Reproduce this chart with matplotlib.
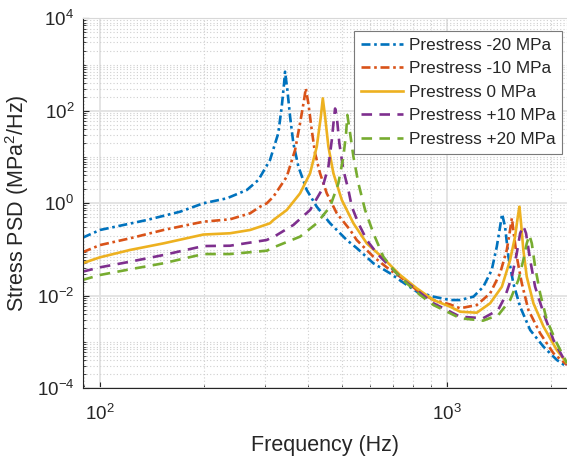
import numpy as np
import matplotlib
matplotlib.use("Agg")
import matplotlib.pyplot as plt
from matplotlib.ticker import LogLocator, NullFormatter, FixedLocator

plt.rcParams['font.family'] = ['Liberation Sans', 'DejaVu Sans']
plt.rcParams['mathtext.fontset'] = 'custom'
plt.rcParams['mathtext.rm'] = 'Liberation Sans'
plt.rcParams['mathtext.it'] = 'Liberation Sans:italic'

# ---------------- data ----------------
labels = ["Prestress -20 MPa", "Prestress -10 MPa", "Prestress 0 MPa",
          "Prestress +10 MPa", "Prestress +20 MPa"]

x_ticks = [100, 1000]
y_ticks = [1e-4, 1e-2, 1e0, 1e2, 1e4]

f_m20 = [89.3, 100.3, 136.8, 170.6, 199.1, 232.6, 265.7, 286.8, 309.8, 327.3,
         334.9, 340.2, 342.4, 347.7, 354.0, 361.8, 374.1, 395.4, 422.5, 461.6,
         515.5, 550.7, 615.2, 687.4, 734.6, 820.6, 916.6, 1024, 1094, 1195,
         1276, 1349, 1395, 1426, 1445, 1474, 1507, 1557, 1629, 1741, 1903,
         2078, 2223]
p_m20 = [0.180, 0.265, 0.435, 0.658, 1.0, 1.28, 1.94, 3.19, 8.6, 32.6,
         122, 393, 700, 282, 74.5, 19.8, 6.18, 1.94, 0.844, 0.370,
         0.161, 0.108, 0.0505, 0.0306, 0.0215, 0.0123, 0.00957, 0.0081, 0.0081, 0.00957,
         0.0157, 0.0361, 0.115, 0.312, 0.587, 0.312, 0.070, 0.0186, 0.0058, 0.00182, 0.00079,
         0.00041, 0.00029]

f_m10 = [89.3, 100.3, 122.4, 152.8, 199.1, 237.7, 271.5, 290.0, 303.3, 316.9,
         346.3, 365.9, 378.2, 388.4, 392.8, 399.6, 408.7, 417.8, 431.9, 451.6,
         482.6, 527.2, 550.7, 615.2, 687.4, 734.6, 820.6, 916.6, 1023, 1094,
         1222, 1335, 1426, 1491, 1524, 1542, 1557, 1593, 1647, 1721, 1860,
         2032, 2223]
p_m10 = [0.0873, 0.125, 0.175, 0.265, 0.40, 0.451, 0.608, 0.844, 1.0, 1.39,
         3.76, 14.2, 53.7, 171, 306, 145, 38.5, 12.05, 4.45, 1.64,
         0.608, 0.265, 0.161, 0.070, 0.0361, 0.0259, 0.0133, 0.0081, 0.0065, 0.00537,
         0.00632, 0.0113, 0.0306, 0.098, 0.265, 0.481, 0.265, 0.070, 0.0186, 0.00493, 0.00155,
         0.00057, 0.00032]

f_0 = [89.3, 100.3, 122.4, 152.8, 199.1, 237.7, 271.5, 290.0, 309.8, 316.9,
       346.3, 378.2, 404.2, 422.5, 434.1, 439.8, 446.6, 456.5, 471.9, 498.9,
       538.9, 588.8, 657.2, 734.6, 820.6, 916.6, 1024, 1094, 1222, 1335,
       1443, 1524, 1575, 1604, 1621, 1639, 1664, 1702, 1779, 1903, 2078, 2223]
p_0 = [0.0505, 0.068, 0.098, 0.136, 0.211, 0.225, 0.265, 0.312, 0.370, 0.435,
       0.716, 1.64, 4.45, 16.7, 74.5, 186, 74.5, 16.7, 4.45, 1.18,
       0.370, 0.136, 0.0647, 0.0282, 0.0145, 0.0081, 0.0058, 0.00453, 0.00431, 0.00689,
       0.0157, 0.0594, 0.19, 0.513, 0.844, 0.370, 0.098, 0.0259, 0.00689, 0.00215, 0.00067, 0.00035]

f_p10 = [89.3, 100.3, 122.4, 152.8, 199.1, 237.7, 303.3, 324.1, 361.8, 404.2,
         436.9, 456.5, 466.9, 474.1, 477.2, 482.6, 490.9, 504.2, 521.2, 533.2,
         557.0, 588.8, 629.3, 687.4, 750.7, 820.6, 916.6, 1024, 1094, 1274,
         1407, 1474, 1542, 1593, 1629, 1664, 1694, 1741, 1799, 1903, 2032, 2223]
p_p10 = [0.0332, 0.0413, 0.0546, 0.0762, 0.119, 0.121, 0.161, 0.206, 0.34, 0.716,
         1.94, 6.18, 23.4, 74.5, 112, 74.5, 19.8, 5.25, 1.94, 0.844,
         0.37, 0.161, 0.083, 0.0426, 0.022, 0.0133, 0.00689, 0.00453, 0.00353, 0.00327,
         0.00493, 0.00957, 0.0259, 0.083, 0.225, 0.323, 0.225, 0.0594, 0.0157, 0.00419, 0.00111, 0.00032]

f_p20 = [89.3, 100.3, 122.4, 152.8, 199.1, 237.7, 303.3, 320.5, 378.2, 422.5,
         461.6, 487.7, 504.2, 513.3, 517.7, 527.2, 538.9, 557.0, 582.3, 615.2,
         657.2, 710.6, 767.8, 838.9, 916.6, 1024, 1094, 1274, 1410, 1524,
         1610, 1664, 1702, 1732, 1760, 1799, 1860, 1944, 2078, 2223]
p_p20 = [0.022, 0.0282, 0.0374, 0.0505, 0.080, 0.080, 0.0944, 0.115, 0.19, 0.370,
         0.844, 2.70, 10.2, 32.6, 81, 32.6, 10.2, 2.70, 0.716, 0.225,
         0.070, 0.0332, 0.0186, 0.0104, 0.00632, 0.00419, 0.00327, 0.0029, 0.00385, 0.0081,
         0.022, 0.0594, 0.136, 0.206, 0.136, 0.0426, 0.0113, 0.0030, 0.00094, 0.00035]

series_f = [f_m20, f_m10, f_0, f_p10, f_p20]
series_p = [p_m20, p_m10, p_0, p_p10, p_p20]

colors = ["#0072BD", "#D95319", "#EDB120", "#7E2F8E", "#77AC30"]
lw = 1.9
dashdot = (3.4, 1.4, 1.0, 1.4)
dashed = (4.0, 2.8)
styles = [dashdot, dashdot, None, dashed, dashed]

# ---------------- figure ----------------
W, H = 567, 458
fig = plt.figure(figsize=(W / 100, H / 100), dpi=100)
ax_l, ax_r, ax_t, ax_b = 82.5, 567, 18.3, 388.3
ax = fig.add_axes([ax_l / W, (H - ax_b) / H, (ax_r - ax_l) / W, (ax_b - ax_t) / H])

for f, p, c, st, lab in zip(series_f, series_p, colors, styles, labels):
    if st is None:
        ax.plot(f, p, color=c, lw=lw, ls='-', label=lab, solid_joinstyle='round')
    else:
        ax.plot(f, p, color=c, lw=lw, ls=(0, st), label=lab)

ax.set_xscale('log')
ax.set_yscale('log')
ax.set_xlim(89.3, 2223)
ax.set_ylim(1e-4, 1e4)

ax.xaxis.set_major_locator(FixedLocator(x_ticks))
ax.xaxis.set_minor_locator(LogLocator(base=10, subs=np.arange(2, 10), numticks=20))
ax.xaxis.set_minor_formatter(NullFormatter())
ax.yaxis.set_major_locator(FixedLocator(y_ticks))
ax.yaxis.set_minor_locator(LogLocator(base=10, subs=np.arange(1, 10), numticks=40))
ax.yaxis.set_minor_formatter(NullFormatter())

ax.grid(True, which='major', color='#e2e2e2', lw=1.3, ls='-')
ax.grid(True, which='minor', color='#cfcfcf', lw=0.8, ls=(0, (1, 2)))
ax.set_axisbelow(True)

tc = '#262626'
ax.tick_params(which='both', direction='in', colors=tc, labelcolor=tc, labelsize=13.5)
ax.tick_params(which='major', length=4, width=0.8, pad=6)
ax.tick_params(which='minor', length=2.2, width=0.6)
ax.tick_params(axis='x', pad=11)

for s in ['left', 'bottom']:
    ax.spines[s].set_color(tc)
    ax.spines[s].set_linewidth(0.8)
ax.spines['right'].set_visible(False)
ax.spines['top'].set_color('#d8d8d8')
ax.spines['top'].set_linewidth(0.8)

ax.set_xlabel('Frequency (Hz)', fontsize=15.5, color=tc, labelpad=8)
ax.set_ylabel('Stress PSD (MPa$^2$/Hz)', fontsize=15.5, color=tc, labelpad=4)

leg = ax.legend(loc='upper right', bbox_to_anchor=(0.9897, 0.9665), borderaxespad=0,
                fontsize=12.3, handlelength=2.5, handletextpad=0.3, labelspacing=0.5,
                borderpad=0.4, fancybox=False, framealpha=1, edgecolor='#7a7a7a')
leg.get_frame().set_linewidth(0.8)
for t in leg.get_texts():
    t.set_color(tc)

fig.savefig('out.png', dpi=100)
